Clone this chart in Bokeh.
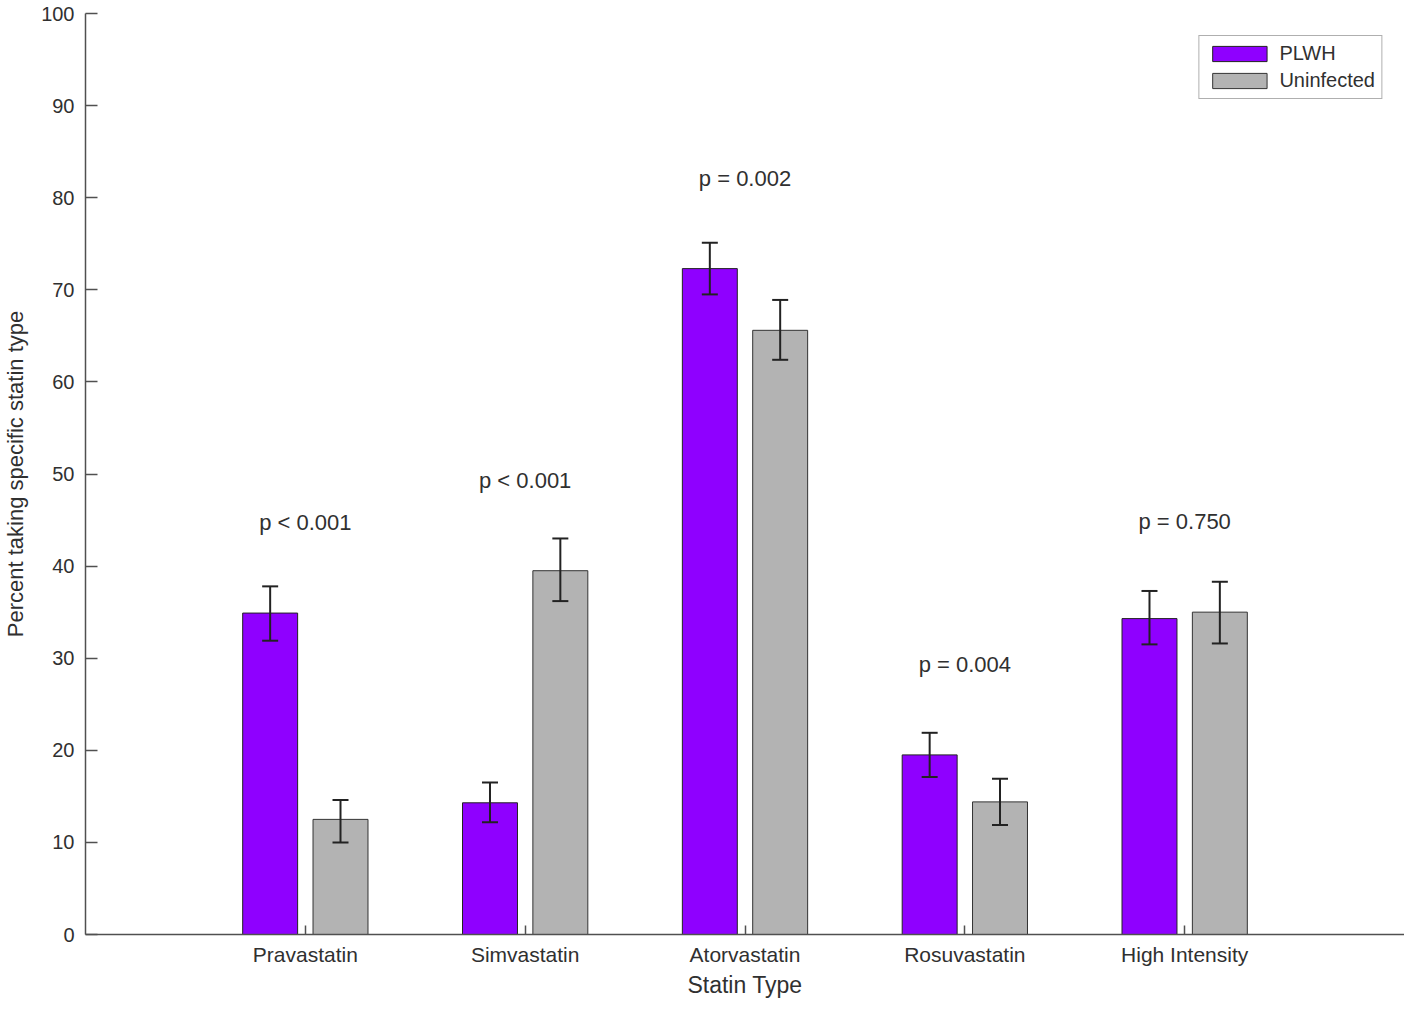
from bokeh.plotting import figure
from bokeh.models import (ColumnDataSource, FixedTicker, Whisker, TeeHead, Legend, LegendItem, Range1d)
from bokeh.core.properties import value
from bokeh.embed import file_html
from bokeh.resources import INLINE

categories = ["Pravastatin", "Simvastatin", "Atorvastatin", "Rosuvastatin", "High Intensity"]
plwh = [34.9, 14.3, 72.3, 19.5, 34.3]
plwh_lo = [31.9, 12.2, 69.5, 17.1, 31.5]
plwh_hi = [37.8, 16.5, 75.1, 21.9, 37.3]
uninf = [12.5, 39.5, 65.6, 14.4, 35.0]
uninf_lo = [10.0, 36.2, 62.4, 11.9, 31.6]
uninf_hi = [14.6, 43.0, 68.9, 16.9, 38.3]
pvals = ["p < 0.001", "p < 0.001", "p = 0.002", "p = 0.004", "p = 0.750"]
pval_y = [44.7, 49.3, 82.1, 29.3, 44.8]

FONT = "Liberation Sans"
TXT = "#303030"
AX = "#505050"
PURPLE = "#8F00FF"
GRAY = "#B3B3B3"

pos = list(range(1, len(categories) + 1))
off = 0.16
bw = 0.25

p = figure(width=1404, height=1000, x_range=Range1d(0, 6), y_range=Range1d(0, 100),
           output_backend="svg", toolbar_location=None,
           min_border_left=81, min_border_right=0, min_border_top=13, min_border_bottom=40)
p.outline_line_color = None
p.xgrid.visible = False
p.ygrid.visible = False

src1 = ColumnDataSource(dict(x=[v - off for v in pos], top=plwh, lo=plwh_lo, hi=plwh_hi))
src2 = ColumnDataSource(dict(x=[v + off for v in pos], top=uninf, lo=uninf_lo, hi=uninf_hi))

r1 = p.vbar(x="x", top="top", width=bw, source=src1, fill_color=PURPLE, line_color="#222222", line_width=1)
r2 = p.vbar(x="x", top="top", width=bw, source=src2, fill_color=GRAY, line_color="#333333", line_width=1)

for s in (src1, src2):
    w = Whisker(base="x", upper="hi", lower="lo", source=s, line_color="#222222", line_width=2,
                upper_head=TeeHead(size=16, line_color="#222222", line_width=2),
                lower_head=TeeHead(size=16, line_color="#222222", line_width=2),
                level="overlay")
    p.add_layout(w)

tsrc = ColumnDataSource(dict(x=pos, y=pval_y, t=pvals))
p.text(x="x", y="y", text="t", source=tsrc, text_align="center", text_baseline="middle",
       text_font=value(FONT), text_font_size="22px", text_color=TXT)

# axes
p.xaxis.ticker = FixedTicker(ticks=pos)
p.xaxis.major_label_overrides = {v: c for v, c in zip(pos, categories)}
p.xaxis.minor_tick_line_color = None
p.xaxis.major_tick_in = 9
p.xaxis.major_tick_out = 0
p.xaxis.major_label_standoff = 8
p.xaxis.axis_label = "Statin Type"
p.xaxis.axis_label_standoff = 3

p.yaxis.ticker = FixedTicker(ticks=list(range(0, 101, 10)))
p.yaxis.minor_tick_line_color = None
p.yaxis.major_tick_in = 12
p.yaxis.major_tick_out = 0
p.yaxis.major_label_standoff = 11
p.yaxis.axis_label = "Percent taking specific statin type"
p.yaxis.axis_label_standoff = 10

for ax in (p.xaxis, p.yaxis):
    ax.axis_line_color = AX
    ax.axis_line_width = 1.5
    ax.major_tick_line_color = AX
    ax.major_tick_line_width = 1.5
    ax.major_label_text_font = FONT
    ax.major_label_text_color = TXT
    ax.axis_label_text_font = FONT
    ax.axis_label_text_font_style = "normal"
    ax.axis_label_text_color = TXT
p.xaxis.major_label_text_font_size = "21px"
p.yaxis.major_label_text_font_size = "20px"
p.xaxis.axis_label_text_font_size = "23px"
p.yaxis.axis_label_text_font_size = "22px"

legend = Legend(items=[LegendItem(label="PLWH", renderers=[r1]),
                       LegendItem(label="Uninfected", renderers=[r2])],
                location="top_right")
legend.glyph_width = 68
legend.glyph_height = 19
legend.label_text_font = FONT
legend.label_text_font_size = "20px"
legend.label_text_color = TXT
legend.label_standoff = 6
legend.spacing = 4
legend.padding = 6
legend.margin = 22
legend.border_line_color = "#606060"
legend.border_line_width = 1.5
legend.label_height = 19
p.add_layout(legend)

open("out.html", "w").write(file_html(p, INLINE))
